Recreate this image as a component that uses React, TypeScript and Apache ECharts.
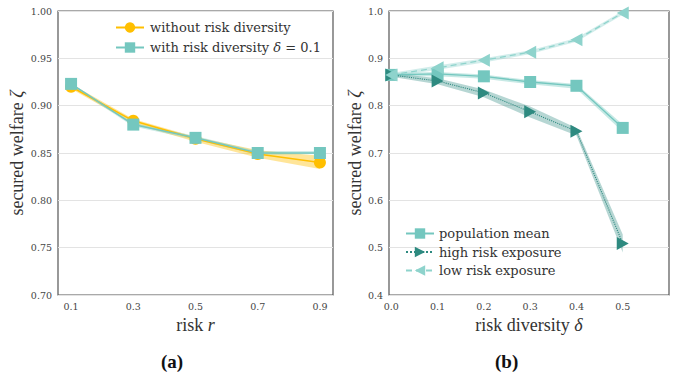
import React, { useEffect, useRef } from "react";
import * as echarts from "echarts";

// ---- Data: panel (a) ----
const R_VALUES = [0.1, 0.3, 0.5, 0.7, 0.9];
const WITHOUT_MEAN = [0.92, 0.884, 0.865, 0.849, 0.84];
const WITHOUT_LO = [0.918, 0.881, 0.862, 0.845, 0.833];
const WITHOUT_HI = [0.923, 0.886, 0.867, 0.853, 0.847];
const WITH_MEAN = [0.923, 0.88, 0.866, 0.85, 0.85];
const WITH_LO = [0.921, 0.878, 0.864, 0.848, 0.849];
const WITH_HI = [0.924, 0.882, 0.868, 0.852, 0.852];
const A_X_TICKS = [0.1, 0.3, 0.5, 0.7, 0.9];

// ---- Data: panel (b) ----
const DELTA_VALUES = [0.0, 0.1, 0.2, 0.3, 0.4, 0.5];
const MEAN = [0.865, 0.867, 0.862, 0.85, 0.842, 0.753];
const MEAN_LO = [0.861, 0.862, 0.857, 0.845, 0.836, 0.745];
const MEAN_HI = [0.869, 0.871, 0.866, 0.854, 0.846, 0.76];
const HIGH = [0.865, 0.852, 0.827, 0.787, 0.746, 0.509];
const HIGH_LO = [0.861, 0.845, 0.818, 0.775, 0.737, 0.49];
const HIGH_HI = [0.869, 0.858, 0.834, 0.798, 0.753, 0.528];
const LOW = [0.865, 0.88, 0.896, 0.913, 0.939, 0.996];
const LOW_LO = [0.861, 0.876, 0.891, 0.909, 0.935, 0.992];
const LOW_HI = [0.869, 0.885, 0.9, 0.917, 0.943, 1.0];
const B_X_TICKS = [0.0, 0.1, 0.2, 0.3, 0.4, 0.5];

const N_WITHOUT = "without risk diversity";
const N_WITH = "with risk diversity δ = 0.1";
const N_MEAN = "population mean";
const N_HIGH = "high risk exposure";
const N_LOW = "low risk exposure";

const ORANGE = "#FFBF00";
const TEAL = "#74C7BF";
const DARK = "#2E8A80";
const LIGHT = "#8ED3CC";

const SERIF = "'DejaVu Serif', serif";
const NAME_FONT = "'Liberation Serif', serif";

const pairs = (xs: number[], ys: number[]) => xs.map((x, i) => [x, ys[i]]);

function band(xs: number[], lo: number[], hi: number[], color: string, axis: number) {
  return {
    type: "custom",
    xAxisIndex: axis,
    yAxisIndex: axis,
    z: 1,
    silent: true,
    clip: true,
    data: xs.map((x, i) => [x, lo[i], hi[i]]),
    renderItem: (params: any, api: any) => {
      if (params.dataIndex !== 0) return null;
      const top = xs.map((x, i) => api.coord([x, hi[i]]));
      const bottom = xs.map((x, i) => api.coord([x, lo[i]])).reverse();
      return {
        type: "polygon",
        shape: { points: top.concat(bottom) },
        style: { fill: color },
      };
    },
  };
}

const RIGHT_TRI = "path://M0,0L10,5L0,10Z";
const LEFT_TRI = "path://M10,0L0,5L10,10Z";

export default function App() {
  const ref = useRef<HTMLDivElement>(null);
  useEffect(() => {
    if (!ref.current) return;
    const chart = echarts.init(ref.current, null, { renderer: "svg" });
    const axisLabel = { color: "#444", fontFamily: SERIF, fontSize: 9.5 };
    const nameStyle = {
      color: "#333",
      fontFamily: NAME_FONT,
      fontSize: 18,
      rich: {
        t: { fontFamily: NAME_FONT, fontSize: 18, color: "#333" },
        i: { fontFamily: NAME_FONT, fontSize: 18, fontStyle: "italic", color: "#333" },
      },
    };
    const option: any = {
      animation: false,
      backgroundColor: "#fff",
      textStyle: { fontFamily: SERIF },
      grid: [
        { left: 58, top: 11, width: 275, height: 284, show: true, borderColor: "#555", borderWidth: 1.2, backgroundColor: "transparent" },
        { left: 389, top: 11, width: 280, height: 284, show: true, borderColor: "#555", borderWidth: 1.2, backgroundColor: "transparent" },
      ],
      xAxis: [
        {
          type: "value", gridIndex: 0, min: 0.058, max: 0.942,
          axisLine: { show: false }, axisTick: { show: false }, splitLine: { show: false },
          axisLabel: { ...axisLabel, customValues: A_X_TICKS, formatter: (v: number) => v.toFixed(1), margin: 6 },
          name: "{t|risk }{i|r}", nameLocation: "middle", nameGap: 8, nameTextStyle: nameStyle,
        },
        {
          type: "value", gridIndex: 1, min: -0.005, max: 0.6,
          axisLine: { show: false }, axisTick: { show: false }, splitLine: { show: false },
          axisLabel: { ...axisLabel, customValues: B_X_TICKS, formatter: (v: number) => v.toFixed(1), margin: 6 },
          name: "{t|risk diversity }{i|δ}", nameLocation: "middle", nameGap: 8, nameTextStyle: nameStyle,
        },
      ],
      yAxis: [
        {
          type: "value", gridIndex: 0, min: 0.7, max: 1.0, interval: 0.05,
          axisLine: { show: false }, axisTick: { show: false },
          splitLine: { show: true, lineStyle: { color: "#e3e3e3", width: 1.2 } },
          axisLabel: { ...axisLabel, formatter: (v: number) => v.toFixed(2), margin: 6 },
          name: "{t|secured welfare }{i|ζ}", nameLocation: "middle", nameGap: 32, nameTextStyle: nameStyle,
        },
        {
          type: "value", gridIndex: 1, min: 0.4, max: 1.0, interval: 0.1,
          axisLine: { show: false }, axisTick: { show: false },
          splitLine: { show: true, lineStyle: { color: "#e3e3e3", width: 1.2 } },
          axisLabel: { ...axisLabel, formatter: (v: number) => v.toFixed(1), margin: 6 },
          name: "{t|secured welfare }{i|ζ}", nameLocation: "middle", nameGap: 21, nameTextStyle: nameStyle,
        },
      ],
      legend: [
        {
          data: [N_WITHOUT, N_WITH], left: 110, top: 16, orient: "vertical",
          itemWidth: 28, itemHeight: 13, itemGap: 7,
          formatter: (n: string) => (n === N_WITH ? "with risk diversity {i|δ} = 0.1" : n),
          textStyle: {
            fontFamily: SERIF, fontSize: 13, color: "#333", padding: [0, 0, 0, 1],
            rich: { i: { fontFamily: SERIF, fontSize: 13, fontStyle: "italic", color: "#333" } },
          },
        },
        {
          data: [N_MEAN, N_HIGH, N_LOW], left: 400, top: 222, orient: "vertical",
          itemWidth: 28, itemHeight: 13, itemGap: 5.5,
          textStyle: { fontFamily: SERIF, fontSize: 13, color: "#333", padding: [0, 0, 0, 0] },
        },
      ],
      graphic: [
        { type: "text", left: 161, top: 352, style: { text: "(a)", fontFamily: NAME_FONT, fontWeight: "bold", fontSize: 19, fill: "#111" } },
        { type: "text", left: 495, top: 352, style: { text: "(b)", fontFamily: NAME_FONT, fontWeight: "bold", fontSize: 19, fill: "#111" } },
      ],
      series: [
        band(R_VALUES, WITHOUT_LO, WITHOUT_HI, "rgba(255,191,0,0.4)", 0),
        band(R_VALUES, WITH_LO, WITH_HI, "rgba(116,199,191,0.35)", 0),
        {
          name: N_WITHOUT, type: "line", xAxisIndex: 0, yAxisIndex: 0, z: 3,
          data: pairs(R_VALUES, WITHOUT_MEAN), symbol: "circle", symbolSize: 12,
          itemStyle: { color: ORANGE }, lineStyle: { color: ORANGE, width: 1.5 },
        },
        {
          name: N_WITH, type: "line", xAxisIndex: 0, yAxisIndex: 0, z: 4,
          data: pairs(R_VALUES, WITH_MEAN), symbol: "rect", symbolSize: 12,
          itemStyle: { color: TEAL }, lineStyle: { color: TEAL, width: 1.5 },
        },
        band(DELTA_VALUES, MEAN_LO, MEAN_HI, "rgba(116,199,191,0.4)", 1),
        band(DELTA_VALUES, HIGH_LO, HIGH_HI, "rgba(46,138,128,0.35)", 1),
        band(DELTA_VALUES, LOW_LO, LOW_HI, "rgba(142,211,204,0.4)", 1),
        {
          name: N_MEAN, type: "line", xAxisIndex: 1, yAxisIndex: 1, z: 3,
          data: pairs(DELTA_VALUES, MEAN), symbol: "rect", symbolSize: 12,
          itemStyle: { color: TEAL }, lineStyle: { color: TEAL, width: 1.3 },
        },
        {
          name: N_HIGH, type: "line", xAxisIndex: 1, yAxisIndex: 1, z: 4,
          data: pairs(DELTA_VALUES, HIGH), symbol: RIGHT_TRI, symbolSize: [12, 13],
          itemStyle: { color: DARK }, lineStyle: { color: DARK, width: 1.1, type: "dotted" },
        },
        {
          name: N_LOW, type: "line", xAxisIndex: 1, yAxisIndex: 1, z: 5,
          data: pairs(DELTA_VALUES, LOW), symbol: LEFT_TRI, symbolSize: [12, 13],
          itemStyle: { color: LIGHT }, lineStyle: { color: LIGHT, width: 1.3, type: [6, 4] },
        },
      ],
    };
    chart.setOption(option);
    return () => chart.dispose();
  }, []);
  return (
    <div
      ref={ref}
      style={{ position: "absolute", left: 0, top: 0, width: 675, height: 377, background: "#fff" }}
    />
  );
}
